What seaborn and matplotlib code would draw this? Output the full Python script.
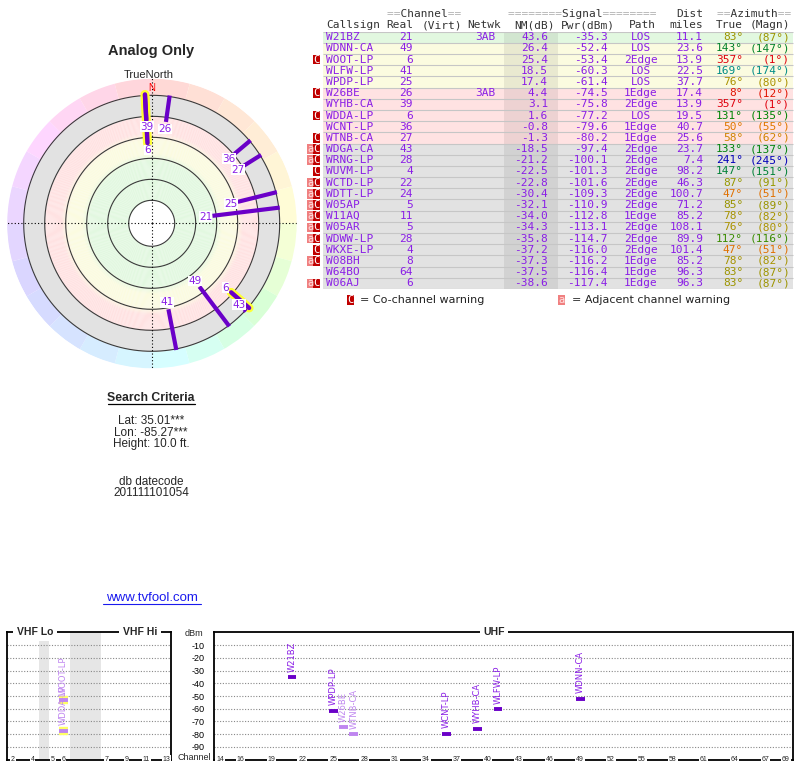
import numpy as np
import matplotlib
matplotlib.use("Agg")
import matplotlib.pyplot as plt
from matplotlib.lines import Line2D
from matplotlib.colors import hsv_to_rgb, to_rgb
import seaborn as sns

# station table
callsigns = ["W21BZ", "WDNN-CA", "WOOT-LP", "WLFW-LP", "WPDP-LP", "W26BE", "WYHB-CA",
             "WDDA-LP", "WCNT-LP", "WTNB-CA", "WDGA-CA", "WRNG-LP", "WUVM-LP", "WCTD-LP",
             "WDTT-LP", "W05AP", "W11AQ", "W05AR", "WDWW-LP", "WKXE-LP", "W08BH", "W64BO", "W06AJ"]
real_ch = [21, 49, 6, 41, 25, 26, 39, 6, 36, 27, 43, 28, 4, 22, 24, 5, 11, 5, 28, 4, 8, 64, 6]
netwk = ["3AB", "", "", "", "", "3AB", "", "", "", "", "", "", "", "", "", "", "", "", "", "", "", "", ""]
nm_db = [43.6, 26.4, 25.4, 18.5, 17.4, 4.4, 3.1, 1.6, -0.8, -1.3, -18.5, -21.2, -22.5, -22.8,
         -30.4, -32.1, -34.0, -34.3, -35.8, -37.2, -37.3, -37.5, -38.6]
pwr_dbm = [-35.3, -52.4, -53.4, -60.3, -61.4, -74.5, -75.8, -77.2, -79.6, -80.2, -97.4, -100.1,
           -101.3, -101.6, -109.3, -110.9, -112.8, -113.1, -114.7, -116.0, -116.2, -116.4, -117.4]
path = ["LOS", "LOS", "2Edge", "LOS", "LOS", "1Edge", "2Edge", "LOS", "1Edge", "1Edge", "2Edge",
        "2Edge", "2Edge", "2Edge", "2Edge", "2Edge", "1Edge", "2Edge", "2Edge", "2Edge", "1Edge",
        "1Edge", "1Edge"]
dist_mi = [11.1, 23.6, 13.9, 22.5, 37.7, 17.4, 13.9, 19.5, 40.7, 25.6, 23.7, 7.4, 98.2, 46.3,
           100.7, 71.2, 85.2, 108.1, 89.9, 101.4, 85.2, 96.3, 96.3]
az_true = [83, 143, 357, 169, 76, 8, 357, 131, 50, 58, 133, 241, 147, 87, 47, 85, 78, 76, 112, 47, 78, 83, 83]
az_magn = [87, 147, 1, 174, 80, 12, 1, 135, 55, 62, 137, 245, 151, 91, 51, 89, 82, 80, 116, 51, 82, 87, 87]
warn = ["", "", "C", "", "", "C", "", "C", "", "C", "aC", "aC", "C", "aC", "aC", "aC", "aC", "aC",
        "aC", "C", "aC", "", "aC"]
analog = ["WOOT-LP", "WDDA-LP"]

vhf_ticks = [2, 4, 5, 6, 7, 9, 11, 13]
uhf_ticks = [14, 16, 19, 22, 25, 28, 31, 34, 37, 40, 43, 46, 49, 52, 55, 58, 61, 64, 67, 69]
dbm_ticks = [-10, -20, -30, -40, -50, -60, -70, -80, -90]
nm_rings = [80, 60, 40, 20, 0, -20]
zone_colors = ["#e2f8e0", "#fbfbe0", "#ffe2e2", "#e2e2e2"]
# soft colour ramp of the polar zones (NM dB -> colour)
ramp_nm = [80, 42, 35, 22, 15, 0]
ramp_col = ["#e2f8e0", "#e2f8e0", "#fbfbe0", "#fbfbe0", "#ffe2e2", "#ffe2e2"]

sns.set_theme(style="white")
plt.rcParams["font.family"] = ["Liberation Sans", "DejaVu Sans"]

W, H = 800, 768
PURPLE = "#8a1ee6"
LINE_PURPLE = "#6a00c8"
LIGHT = "#bf86f0"


def rect(x0, y0, x1, y1):
    return [x0 / W, 1 - y1 / H, (x1 - x0) / W, (y1 - y0) / H]


def ftext(x, y, s, **kw):
    fig.text(x / W, 1 - y / H, s, **kw)


def az_hue(az):
    return np.interp(az, [0, 50, 85, 140, 170, 240, 300, 360],
                     [0, 32, 58, 135, 180, 240, 290, 360])


def az_color(az):
    h = az_hue(az)
    v = np.interp(h, [0, 32, 58, 135, 180, 240, 360], [0.88, 0.88, 0.6, 0.5, 0.55, 0.72, 0.88])
    return hsv_to_rgb([h / 360, 1.0, v])


def az_pastel(az):
    return hsv_to_rgb([az_hue(az) / 360, 0.16, 1.0])


def zone_ramp(v):
    cols = np.array([to_rgb(c) for c in ramp_col])
    return [np.interp(-v, [-n for n in ramp_nm], cols[:, k]) for k in range(3)]


def vhf_x(ch):
    if ch <= 4:
        return 12.7 + (ch - 2) * 10
    if ch <= 6:
        return 53 + (ch - 5) * 10.5
    return 106.5 + (ch - 7) * 10


fig = plt.figure(figsize=(8, 7.68), dpi=100)
fig.patch.set_facecolor("white")

# ---------------- left column text
ftext(151, 51, "Analog Only", fontsize=10.5, fontweight="bold", ha="center", va="center")
ftext(149, 75, "TrueNorth", fontsize=8, ha="center", va="center")
ftext(151, 398, "Search Criteria", fontsize=8.8, fontweight="bold", ha="center", va="center")
fig.add_artist(Line2D([108 / W, 195 / W], [1 - 404 / H, 1 - 404 / H], color="black", lw=0.9))
ftext(151, 421, "Lat: 35.01***", fontsize=8.5, ha="center", va="center")
ftext(151, 432.5, "Lon: -85.27***", fontsize=8.5, ha="center", va="center")
ftext(151, 444, "Height: 10.0 ft.", fontsize=8.5, ha="center", va="center")
ftext(151, 482, "db datecode", fontsize=8.5, ha="center", va="center")
ftext(151, 493.5, "201111101054", fontsize=8.5, ha="center", va="center")
ftext(152, 598, "www.tvfool.com", fontsize=9.5, ha="center", va="center", color="#1a1aee")
fig.add_artist(Line2D([103 / W, 201 / W], [1 - 604 / H, 1 - 604 / H], color="#1a1aee", lw=0.8))

# ---------------- polar plot
ax_p = fig.add_axes(rect(6.7, 78.3, 296.7, 368.3), projection="polar")
ax_p.set_theta_zero_location("N")
ax_p.set_theta_direction(-1)
r_center, r_edge = 101.9, -36.2
ax_p.set_rlim(r_center, r_edge)
ax_p.set_xticks([])
ax_p.set_yticks([])
ax_p.grid(False)
ax_p.spines["polar"].set_visible(False)
ax_p.set_facecolor("white")

full = np.linspace(0, 2 * np.pi, 361)
for v in np.arange(80, 0, -1.0):
    ax_p.fill_between(full, v - 1.05, v, color=zone_ramp(v - 0.5), lw=0, zorder=1)
ax_p.fill_between(full, -20, 0, color=zone_colors[3], lw=0, zorder=1)
for a in range(0, 360, 15):
    th = np.radians(np.linspace(a, a + 15, 12))
    ax_p.fill_between(th, r_edge, -20, color=az_pastel(a + 7.5), lw=0, zorder=1)
for r in nm_rings:
    ax_p.plot(full, np.full_like(full, r), color="#3a3a3a", lw=0.8, zorder=2)
for th in np.radians([0, 90, 180, 270]):
    ax_p.plot([th, th], [r_center, r_edge], color="black", lw=0.8, ls=(0, (1, 2)), zorder=2)
ax_p.text(0, -26.5, "N", color="red", fontsize=7, ha="center", va="center", zorder=3)

for i, cs in enumerate(callsigns):
    if nm_db[i] < -20:
        continue
    th = np.radians(az_true[i])
    if cs in analog:
        ax_p.plot([th, th], [nm_db[i], -21], color="#ffff33", lw=6.5,
                  solid_capstyle="round", zorder=4)
        ax_p.plot([th, th], [nm_db[i], -21], color=LINE_PURPLE, lw=3.2,
                  solid_capstyle="round", zorder=5)
    else:
        ax_p.plot([th, th], [nm_db[i], -21], color=LINE_PURPLE, lw=3.0,
                  solid_capstyle="butt", zorder=5)
for i, cs in enumerate(callsigns):
    if nm_db[i] < -20:
        continue
    ax_p.text(np.radians(az_true[i]), nm_db[i] + 6.7, str(real_ch[i]), color=PURPLE,
              fontsize=7.5, family="DejaVu Sans", ha="center", va="center", zorder=6,
              bbox=dict(fc="white", ec="none", pad=0.2))

# ---------------- station table
ax_t = fig.add_axes(rect(296, 31.7, 796, 288.9))
ax_t.set_xlim(296, 796)
ax_t.set_ylim(22.5, -0.5)
ax_t.axis("off")
rows = np.arange(len(callsigns))


def row_color(v):
    if v >= 35:
        return zone_colors[0]
    if v >= 10:
        return zone_colors[1]
    if v >= -10:
        return zone_colors[2]
    return zone_colors[3]


ax_t.barh(rows, 793 - 323, left=323, height=1.0, color=[row_color(v) for v in nm_db], lw=0)
ax_t.barh(rows, 558 - 504, left=504, height=1.0, color="black", alpha=0.07, lw=0)
ax_t.hlines(np.arange(-0.5, len(rows)), 323, 793, color="#c6c6c6", lw=0.8)

mono = dict(family="DejaVu Sans Mono", fontsize=8, va="center")
hdr = "#333333"
grey = "#b0b0b0"
# header line 1
for left, s in [(387, "==Channel=="), (508, "========Signal========"), (717, "==Azimuth==")]:
    ax_t.text(left, -2.08, "".join(c if c == "=" else " " for c in s), color=grey, ha="left", **mono)
    ax_t.text(left, -2.08, "".join(" " if c == "=" else c for c in s), color=hdr, ha="left", **mono)
ax_t.text(703, -2.08, "Dist", color=hdr, ha="right", **mono)
# header line 2
for x, s, ha in [(326, "Callsign", "left"), (413, "Real", "right"), (422, "(Virt)", "left"),
                 (467, "Netwk", "left"), (555, "NM(dB)", "right"), (615, "Pwr(dBm)", "right"),
                 (629, "Path", "left"), (703, "miles", "right"), (743, "True", "right"),
                 (790, "(Magn)", "right")]:
    ax_t.text(x, -1.06, s, color=hdr, ha=ha, **mono)

for i in rows:
    ax_t.text(326, i, callsigns[i], color=PURPLE, ha="left", **mono)
    ax_t.text(413, i, str(real_ch[i]), color=PURPLE, ha="right", **mono)
    ax_t.text(475, i, netwk[i], color=PURPLE, ha="left", **mono)
    ax_t.text(548, i, f"{nm_db[i]:.1f}", color=PURPLE, ha="right", **mono)
    ax_t.text(608, i, f"{pwr_dbm[i]:.1f}", color=PURPLE, ha="right", **mono)
    ax_t.text(641, i, path[i], color=PURPLE, ha="center", **mono)
    ax_t.text(703, i, f"{dist_mi[i]:.1f}", color=PURPLE, ha="right", **mono)
    ax_t.text(743, i, f"{az_true[i]}°", color=az_color(az_true[i]), ha="right", **mono)
    ax_t.text(790, i, f"({az_magn[i]}°)", color=az_color(az_true[i]), ha="right", **mono)
    if "C" in warn[i]:
        ax_t.barh(i, 6.7, left=313.3, height=0.86, color="#c00000", lw=0)
        ax_t.text(316.7, i, "C", color="white", ha="center", family="DejaVu Sans Mono",
                  fontsize=7.5, va="center")
    if "a" in warn[i]:
        ax_t.barh(i, 6.6, left=306.7, height=0.86, color="#f08080", lw=0)
        ax_t.text(310, i, "a", color="#ffe0e0", ha="center", family="DejaVu Sans Mono",
                  fontsize=7.5, va="center")

# legend
leg_y = 23.5
ax_t.barh(leg_y, 6.7, left=347, height=0.86, color="#c00000", lw=0, clip_on=False)
ax_t.text(350.3, leg_y, "C", color="white", ha="center", family="DejaVu Sans Mono",
          fontsize=7.5, va="center", clip_on=False)
ax_t.text(360, leg_y, "= Co-channel warning", color="#222222", ha="left", va="center",
          family="DejaVu Sans", fontsize=8)
ax_t.barh(leg_y, 6.6, left=558, height=0.86, color="#f08080", lw=0, clip_on=False)
ax_t.text(561.3, leg_y, "a", color="#ffe0e0", ha="center", family="DejaVu Sans Mono",
          fontsize=7.5, va="center", clip_on=False)
ax_t.text(572, leg_y, "= Adjacent channel warning", color="#222222", ha="left", va="center",
          family="DejaVu Sans", fontsize=8)

# ---------------- spectrum panels
ax_v = fig.add_axes(rect(7, 632.3, 171, 759.7))
ax_u = fig.add_axes(rect(214, 632.3, 793, 759.7))
ax_v.set_xlim(7, 171)
ax_u.set_xlim(13.417, 69.68)
for ax in (ax_v, ax_u):
    ax.set_facecolor("white")
    ax.set_ylim(-100, 0)
    ax.set_yticks(dbm_ticks)
    ax.set_xticks([])
    ax.grid(axis="y", color="#888888", ls=(0, (1, 1.5)), lw=0.8)
    ax.grid(axis="x", visible=False)
    for s in ax.spines.values():
        s.set_visible(True)
        s.set_color("black")
        s.set_linewidth(1.3)
ax_v.tick_params(axis="y", left=False, labelleft=False)
ax_u.set_yticklabels([str(v) for v in dbm_ticks])
ax_u.tick_params(axis="y", length=0, pad=7, labelsize=6.5, labelcolor="black")

ax_v.axvspan(38.5, 48.5, color="#e6e6e6", lw=0, zorder=0)
ax_v.axvspan(70, 100.5, color="#e6e6e6", lw=0, zorder=0)

for c in vhf_ticks:
    ax_v.text(vhf_x(c), -100, str(c), fontsize=5, ha="center", va="center", clip_on=False,
              zorder=5, bbox=dict(fc="white", ec="none", pad=0.6))
for c in uhf_ticks:
    ax_u.text(c, -100, str(c), fontsize=5, ha="center", va="center", clip_on=False,
              zorder=5, bbox=dict(fc="white", ec="none", pad=0.6))

head = dict(fontsize=7.5, fontweight="bold", ha="center", va="center", clip_on=False, zorder=5,
            bbox=dict(fc="white", ec="none", pad=2.5))
ax_v.text(35, 0, "VHF Lo", **head)
ax_v.text(140, 0, "VHF Hi", **head)
ax_u.text(40.6, 0, "UHF", **head)
ftext(194, 633.5, "dBm", fontsize=6.5, ha="center", va="center")
ftext(194, 757.5, "Channel", fontsize=6.5, ha="center", va="center")

for i, cs in enumerate(callsigns):
    p = pwr_dbm[i]
    if p < -90:
        continue
    ch = real_ch[i]
    if ch <= 13:
        ax, x, half = ax_v, vhf_x(ch), 4.5
    else:
        ax, x, half = ax_u, ch, 0.42
    light = "C" in warn[i]
    if cs in analog:
        ax.hlines(p, x - half, x + half, color="#ffff66", lw=6, zorder=3)
    ax.hlines(p, x - half, x + half, color=LIGHT if light else LINE_PURPLE, lw=2.8, zorder=4)
    ax.text(x, p + 4.4, cs, rotation=90, ha="center", va="bottom", fontsize=6,
            family="DejaVu Sans", color=LIGHT if light else PURPLE, zorder=4)

fig.savefig("out.png", dpi=100, facecolor="white")
